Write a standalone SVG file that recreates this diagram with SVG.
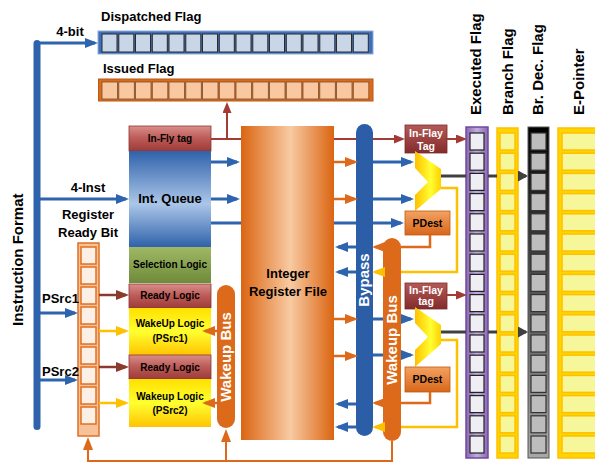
<svg xmlns="http://www.w3.org/2000/svg" width="595" height="464" viewBox="0 0 595 464">
<defs>
<style>
.t{font-family:"Liberation Sans",Arial,Helvetica,sans-serif;font-weight:bold;fill:#000}
.w{fill:#fff}
.c{text-anchor:middle}
.f10{font-size:10px}
.f105{font-size:10.5px}
.f13{font-size:13px}
.f15{font-size:15px}
.dc{fill:#c9d6e7;stroke:#2b2b2b;stroke-width:1}
.ic{fill:#f9c7a0;stroke:#7a5030;stroke-width:0.8}
.rc{fill:#fcefe6;stroke:#e07020;stroke-width:1.5}
.ec{fill:#f0eef5;stroke:#222;stroke-width:1.2}
.yc{fill:#f6f69a;stroke:#ffc000;stroke-width:1.5}
.gc{fill:#bdbdbd;stroke:#333;stroke-width:1.2}
.lb{stroke:#2e64ae;stroke-width:3;fill:none}
.lo{stroke:#dc6a1a;stroke-width:2.5;fill:none}
.ly{stroke:#ffc000;stroke-width:2.5;fill:none}
.lr{stroke:#a33b35;stroke-width:2;fill:none}
.lbr{stroke:#8b3a2e;stroke-width:2.5;fill:none}
.lg{stroke:#404040;stroke-width:3;fill:none}
.ab{marker-end:url(#mB)}
.ao{marker-end:url(#mO)}
.ay{marker-end:url(#mY)}
.ar{marker-end:url(#mR)}
.abr{marker-end:url(#mBr)}
.ag{marker-end:url(#mG)}
</style>
<linearGradient id="gRedL" x1="0" y1="0" x2="0" y2="1"><stop offset="0" stop-color="#d98e8a"/><stop offset="0.5" stop-color="#bb5a56"/><stop offset="1" stop-color="#9c3b38"/></linearGradient>
<linearGradient id="gRedR" x1="0" y1="0" x2="0" y2="1"><stop offset="0" stop-color="#b45a56"/><stop offset="1" stop-color="#832c2c"/></linearGradient>
<linearGradient id="gQ" x1="0" y1="0" x2="0" y2="1"><stop offset="0" stop-color="#2f62ab"/><stop offset="0.55" stop-color="#abc6e8"/><stop offset="1" stop-color="#2f62ab"/></linearGradient>
<linearGradient id="gG" x1="0" y1="0" x2="0" y2="1"><stop offset="0" stop-color="#9fb866"/><stop offset="1" stop-color="#6e8b3a"/></linearGradient>
<linearGradient id="gY" x1="0" y1="0" x2="0" y2="1"><stop offset="0" stop-color="#ffe000"/><stop offset="0.5" stop-color="#ffff30"/><stop offset="1" stop-color="#ffc400"/></linearGradient>
<linearGradient id="gRF" x1="0" y1="0" x2="1" y2="0"><stop offset="0" stop-color="#db6512"/><stop offset="0.53" stop-color="#f8caa2"/><stop offset="1" stop-color="#db6512"/></linearGradient>
<linearGradient id="gMux" x1="0" y1="0" x2="1" y2="0"><stop offset="0" stop-color="#ffc000"/><stop offset="0.6" stop-color="#ffff33"/><stop offset="1" stop-color="#ffd000"/></linearGradient>
<linearGradient id="gPD" x1="0" y1="0" x2="0" y2="1"><stop offset="0" stop-color="#f3a262"/><stop offset="1" stop-color="#d8661a"/></linearGradient>
<linearGradient id="gBlk" x1="0" y1="0" x2="0" y2="1"><stop offset="0" stop-color="#000"/><stop offset="1" stop-color="#a8a8a8"/></linearGradient>
<linearGradient id="gPur" x1="0" y1="0" x2="1" y2="0"><stop offset="0" stop-color="#8a66b4"/><stop offset="0.5" stop-color="#c2afdc"/><stop offset="1" stop-color="#8a66b4"/></linearGradient>
<marker id="mB" viewBox="0 0 13 10" refX="10" refY="5" markerWidth="13" markerHeight="10" markerUnits="userSpaceOnUse" orient="auto"><path d="M0,0L13,5L0,10z" fill="#2e64ae"/></marker>
<marker id="mO" viewBox="0 0 13 10" refX="10" refY="5" markerWidth="13" markerHeight="10" markerUnits="userSpaceOnUse" orient="auto"><path d="M0,0L13,5L0,10z" fill="#dc6a1a"/></marker>
<marker id="mY" viewBox="0 0 13 10" refX="10" refY="5" markerWidth="13" markerHeight="10" markerUnits="userSpaceOnUse" orient="auto"><path d="M0,0L13,5L0,10z" fill="#ffc000"/></marker>
<marker id="mBr" viewBox="0 0 13 10" refX="10" refY="5" markerWidth="13" markerHeight="10" markerUnits="userSpaceOnUse" orient="auto"><path d="M0,0L13,5L0,10z" fill="#8b3a2e"/></marker>
<marker id="mR" viewBox="0 0 11 9" refX="8" refY="4.5" markerWidth="11" markerHeight="9" markerUnits="userSpaceOnUse" orient="auto"><path d="M0,0L11,4.5L0,9z" fill="#a33b35"/></marker>
<marker id="mG" viewBox="0 0 10 11" refX="8" refY="5.5" markerWidth="10" markerHeight="11" markerUnits="userSpaceOnUse" orient="auto"><path d="M0,0L10,5.5L0,11z" fill="#404040"/></marker>
</defs>
<rect width="595" height="464" fill="#fff"/>

<g id="instruction-format">
<rect x="33.5" y="40" width="7" height="390" rx="3.5" fill="#2e62ab"/>
<text class="t f15" transform="translate(23,326) rotate(-90)">Instruction Format</text>
</g>

<g id="dispatched-flag">
<text class="t f13" x="101" y="21">Dispatched Flag</text>
<rect x="98" y="31" width="275" height="23" fill="#3f6fb8" stroke="#8fb0dc" stroke-width="1"/>
<rect class="dc" x="102" y="34" width="15" height="18"/><rect class="dc" x="118.8" y="34" width="15" height="18"/><rect class="dc" x="135.5" y="34" width="15" height="18"/><rect class="dc" x="152.3" y="34" width="15" height="18"/><rect class="dc" x="169" y="34" width="15" height="18"/><rect class="dc" x="185.8" y="34" width="15" height="18"/><rect class="dc" x="202.5" y="34" width="15" height="18"/><rect class="dc" x="219.3" y="34" width="15" height="18"/><rect class="dc" x="236" y="34" width="15" height="18"/><rect class="dc" x="252.8" y="34" width="15" height="18"/><rect class="dc" x="269.5" y="34" width="15" height="18"/><rect class="dc" x="286.3" y="34" width="15" height="18"/><rect class="dc" x="303" y="34" width="15" height="18"/><rect class="dc" x="319.8" y="34" width="15" height="18"/><rect class="dc" x="336.5" y="34" width="15" height="18"/><rect class="dc" x="353.3" y="34" width="15" height="18"/>
</g>

<g id="issued-flag">
<text class="t f13" x="103" y="73">Issued Flag</text>
<rect x="98.5" y="79" width="274.5" height="22" fill="#dc6a1a" stroke="#b85a18" stroke-width="1"/>
<rect class="ic" x="102" y="82" width="15.5" height="17"/><rect class="ic" x="118.8" y="82" width="15.5" height="17"/><rect class="ic" x="135.5" y="82" width="15.5" height="17"/><rect class="ic" x="152.3" y="82" width="15.5" height="17"/><rect class="ic" x="169" y="82" width="15.5" height="17"/><rect class="ic" x="185.8" y="82" width="15.5" height="17"/><rect class="ic" x="202.5" y="82" width="15.5" height="17"/><rect class="ic" x="219.3" y="82" width="15.5" height="17"/><rect class="ic" x="236" y="82" width="15.5" height="17"/><rect class="ic" x="252.8" y="82" width="15.5" height="17"/><rect class="ic" x="269.5" y="82" width="15.5" height="17"/><rect class="ic" x="286.3" y="82" width="15.5" height="17"/><rect class="ic" x="303" y="82" width="15.5" height="17"/><rect class="ic" x="319.8" y="82" width="15.5" height="17"/><rect class="ic" x="336.5" y="82" width="15.5" height="17"/><rect class="ic" x="353.3" y="82" width="15.5" height="17"/>
</g>

<g id="ready-bit">
<text class="t f13 c" x="88" y="219">Register</text>
<text class="t f13 c" x="88" y="237">Ready Bit</text>
<rect x="78" y="243" width="21" height="193" fill="#f7c29a" stroke="#e07020" stroke-width="1.5"/>
<rect class="rc" x="81" y="247" width="15" height="17"/><rect class="rc" x="81" y="267" width="15" height="17"/><rect class="rc" x="81" y="287" width="15" height="17"/><rect class="rc" x="81" y="307" width="15" height="17"/><rect class="rc" x="81" y="327" width="15" height="17"/><rect class="rc" x="81" y="347" width="15" height="17"/><rect class="rc" x="81" y="367" width="15" height="17"/><rect class="rc" x="81" y="387" width="15" height="17"/><rect class="rc" x="81" y="407" width="15" height="17"/>
<text class="t f13" x="42" y="303">PSrc1</text>
<text class="t f13" x="42" y="376">PSrc2</text>
</g>

<g id="in-fly-tag">
<rect x="129" y="126" width="82" height="25" fill="url(#gRedL)" stroke="#8e3532" stroke-width="0.8"/>
<text class="t f10 c" x="170" y="142">In-Fly tag</text>
</g>
<g id="int-queue">
<rect x="129" y="151" width="82" height="96" fill="url(#gQ)"/>
<text class="t f13 c" x="170" y="203">Int. Queue</text>
</g>
<g id="selection-logic">
<rect x="129" y="247" width="82" height="36" fill="url(#gG)"/>
<text class="t f10 c" x="170" y="268">Selection Logic</text>
</g>
<g id="ready-logic-1">
<rect x="129" y="284" width="82" height="24" fill="url(#gRedL)" stroke="#8e3532" stroke-width="0.8"/>
<text class="t f10 c" x="170" y="299">Ready Logic</text>
</g>
<g id="wakeup-logic-1">
<rect x="129" y="308" width="82" height="47" fill="url(#gY)"/>
<text class="t f10 c" x="170" y="327">WakeUp Logic</text>
<text class="t f10 c" x="170" y="342">(PSrc1)</text>
</g>
<g id="ready-logic-2">
<rect x="129" y="355" width="82" height="24" fill="url(#gRedL)" stroke="#8e3532" stroke-width="0.8"/>
<text class="t f10 c" x="170" y="371">Ready Logic</text>
</g>
<g id="wakeup-logic-2">
<rect x="129" y="379" width="82" height="48" fill="url(#gY)"/>
<text class="t f10 c" x="170" y="400">Wakeup Logic</text>
<text class="t f10 c" x="170" y="414">(PSrc2)</text>
</g>

<g id="wakeup-bus-left">
<rect x="217" y="285" width="18" height="143" rx="9" fill="#dc6a1a"/>
<text class="t f15 w c" transform="translate(231,357) rotate(-90)">Wakeup Bus</text>
</g>

<g id="register-file">
<rect x="241" y="126" width="93" height="314" fill="url(#gRF)"/>
<text class="t f13 c" x="288" y="278">Integer</text>
<text class="t f13 c" x="288" y="296">Register File</text>
</g>

<g id="bypass">
<rect x="356" y="124" width="17" height="312" rx="8.5" fill="#2b5ea7"/>
<text class="t f15 w c" transform="translate(369,280) rotate(-90)">Bypass</text>
</g>

<g id="wakeup-bus-right">
<rect x="383" y="238" width="18" height="203" rx="9" fill="#dc6a1a"/>
<text class="t f15 w c" transform="translate(397,340) rotate(-90)">Wakeup Bus</text>
</g>

<g id="in-flay-tag-1">
<rect x="405" y="125" width="42" height="28" fill="url(#gRedR)" stroke="#7a2a2a" stroke-width="0.8"/>
<text class="t f105 w c" x="426" y="137">In-Flay</text>
<text class="t f105 w c" x="426" y="150">Tag</text>
</g>
<g id="mux-1">
<polygon points="415,151 441,169 441,189 415,211 415,195 428,182 415,168" fill="url(#gMux)"/>
</g>
<g id="pdest-1">
<rect x="405" y="211" width="45" height="24" fill="url(#gPD)" stroke="#c05a10" stroke-width="0.8"/>
<text class="t f105 c" x="427.5" y="227">PDest</text>
</g>

<g id="in-flay-tag-2">
<rect x="405" y="283" width="42" height="26" fill="url(#gRedR)" stroke="#7a2a2a" stroke-width="0.8"/>
<text class="t f105 w c" x="426" y="294">In-Flay</text>
<text class="t f105 w c" x="426" y="305">tag</text>
</g>
<g id="mux-2">
<polygon points="415,307 441,325 441,344 415,367 415,350 428,337 415,323" fill="url(#gMux)"/>
</g>
<g id="pdest-2">
<rect x="405" y="367" width="45" height="25" fill="url(#gPD)" stroke="#c05a10" stroke-width="0.8"/>
<text class="t f105 c" x="427.5" y="383">PDest</text>
</g>

<g id="executed-flag">
<text class="t f15" transform="translate(481,115) rotate(-90)">Executed Flag</text>
<rect x="466" y="127" width="22" height="331" fill="url(#gPur)" stroke="#6f4a9e" stroke-width="1.5"/>
<rect class="ec" x="470" y="133" width="14" height="17"/><rect class="ec" x="470" y="153.2" width="14" height="17"/><rect class="ec" x="470" y="173.4" width="14" height="17"/><rect class="ec" x="470" y="193.6" width="14" height="17"/><rect class="ec" x="470" y="213.8" width="14" height="17"/><rect class="ec" x="470" y="234" width="14" height="17"/><rect class="ec" x="470" y="254.2" width="14" height="17"/><rect class="ec" x="470" y="274.4" width="14" height="17"/><rect class="ec" x="470" y="294.6" width="14" height="17"/><rect class="ec" x="470" y="314.8" width="14" height="17"/><rect class="ec" x="470" y="335" width="14" height="17"/><rect class="ec" x="470" y="355.2" width="14" height="17"/><rect class="ec" x="470" y="375.4" width="14" height="17"/><rect class="ec" x="470" y="395.6" width="14" height="17"/><rect class="ec" x="470" y="415.8" width="14" height="17"/><rect class="ec" x="470" y="436" width="14" height="17"/>
</g>

<g id="branch-flag">
<text class="t f15" transform="translate(513,115) rotate(-90)">Branch Flag</text>
<rect x="497" y="128" width="21" height="330" fill="#ffd500" stroke="#ffc000" stroke-width="1.5"/>
<rect class="yc" x="500" y="133" width="15" height="17"/><rect class="yc" x="500" y="153.2" width="15" height="17"/><rect class="yc" x="500" y="173.4" width="15" height="17"/><rect class="yc" x="500" y="193.6" width="15" height="17"/><rect class="yc" x="500" y="213.8" width="15" height="17"/><rect class="yc" x="500" y="234" width="15" height="17"/><rect class="yc" x="500" y="254.2" width="15" height="17"/><rect class="yc" x="500" y="274.4" width="15" height="17"/><rect class="yc" x="500" y="294.6" width="15" height="17"/><rect class="yc" x="500" y="314.8" width="15" height="17"/><rect class="yc" x="500" y="335" width="15" height="17"/><rect class="yc" x="500" y="355.2" width="15" height="17"/><rect class="yc" x="500" y="375.4" width="15" height="17"/><rect class="yc" x="500" y="395.6" width="15" height="17"/><rect class="yc" x="500" y="415.8" width="15" height="17"/><rect class="yc" x="500" y="436" width="15" height="17"/>
</g>

<g id="br-dec-flag">
<text class="t f15" transform="translate(543,115) rotate(-90)">Br. Dec. Flag</text>
<rect x="528" y="127" width="21" height="331" fill="url(#gBlk)" stroke="#555" stroke-width="1"/>
<rect class="gc" x="531" y="133" width="15" height="17"/><rect class="gc" x="531" y="153.2" width="15" height="17"/><rect class="gc" x="531" y="173.4" width="15" height="17"/><rect class="gc" x="531" y="193.6" width="15" height="17"/><rect class="gc" x="531" y="213.8" width="15" height="17"/><rect class="gc" x="531" y="234" width="15" height="17"/><rect class="gc" x="531" y="254.2" width="15" height="17"/><rect class="gc" x="531" y="274.4" width="15" height="17"/><rect class="gc" x="531" y="294.6" width="15" height="17"/><rect class="gc" x="531" y="314.8" width="15" height="17"/><rect class="gc" x="531" y="335" width="15" height="17"/><rect class="gc" x="531" y="355.2" width="15" height="17"/><rect class="gc" x="531" y="375.4" width="15" height="17"/><rect class="gc" x="531" y="395.6" width="15" height="17"/><rect class="gc" x="531" y="415.8" width="15" height="17"/><rect class="gc" x="531" y="436" width="15" height="17"/>
</g>

<g id="e-pointer">
<text class="t f15" transform="translate(584,115) rotate(-90)">E-Pointer</text>
<rect x="558" y="128" width="42" height="330" fill="#ffd500" stroke="#ffc000" stroke-width="1.5"/>
<rect class="yc" x="562" y="133" width="40" height="17"/><rect class="yc" x="562" y="153.2" width="40" height="17"/><rect class="yc" x="562" y="173.4" width="40" height="17"/><rect class="yc" x="562" y="193.6" width="40" height="17"/><rect class="yc" x="562" y="213.8" width="40" height="17"/><rect class="yc" x="562" y="234" width="40" height="17"/><rect class="yc" x="562" y="254.2" width="40" height="17"/><rect class="yc" x="562" y="274.4" width="40" height="17"/><rect class="yc" x="562" y="294.6" width="40" height="17"/><rect class="yc" x="562" y="314.8" width="40" height="17"/><rect class="yc" x="562" y="335" width="40" height="17"/><rect class="yc" x="562" y="355.2" width="40" height="17"/><rect class="yc" x="562" y="375.4" width="40" height="17"/><rect class="yc" x="562" y="395.6" width="40" height="17"/><rect class="yc" x="562" y="415.8" width="40" height="17"/><rect class="yc" x="562" y="436" width="40" height="17"/>
</g>

<g id="connectors">
<text class="t f13 c" x="70" y="36">4-bit</text>
<text class="t f13 c" x="88" y="192">4-Inst</text>
<path class="lb ab" d="M37,43H95"/>
<path class="lb ab" d="M40,199H126"/>
<path class="lb ab" d="M211,162H237"/>
<path class="lb ab" d="M211,199H237"/>
<path class="lb" d="M211,223H241M334,223H356"/>
<path class="lb ab" d="M373,223H401"/>
<path class="lb ab" d="M373,162H411"/>
<path class="lb ab" d="M373,199H411"/>
<path class="lb ab" d="M356,247H338"/>
<path class="lb ab" d="M356,272H338"/>
<path class="lb ab" d="M356,404H338"/>
<path class="lb ab" d="M356,427H338"/>
<path class="lb" d="M373,319H383M373,355H383"/>
<path class="lb ab" d="M401,319H411"/>
<path class="lb ab" d="M401,355H411"/>
<path class="lb ab" d="M40,313H75"/>
<path class="lb ab" d="M40,380H75"/>
<path class="lo ao" d="M334,162H355"/>
<path class="lo ao" d="M334,199H355"/>
<path class="lo ao" d="M334,319H355"/>
<path class="lo ao" d="M334,356H355"/>
<path class="lo" d="M430,235V247H401"/>
<path class="lo ao" d="M383,247H375"/>
<path class="lo" d="M430,392V403H401"/>
<path class="lo ao" d="M383,403H375"/>
<path class="lo ao" d="M217,331H205"/>
<path class="lo ao" d="M217,403H205"/>
<path class="lo ao" d="M392,441V461H88V440" style="stroke-width:2"/>
<path class="lo ao" d="M226,461V432" style="stroke-width:2"/>
<path class="ly" d="M441,188H457V272H401"/>
<path class="ly ay" d="M383,272H375"/>
<path class="ly" d="M441,340H457V427H401"/>
<path class="ly ay" d="M383,427H375"/>
<path class="ly ay" d="M99,331H126"/>
<path class="ly ay" d="M99,403H126"/>
<path class="lr" d="M211,139H241M334,139H356"/>
<path class="lr ar" d="M373,139H402"/>
<path class="lr ar" d="M227,139V105"/>
<path class="lr ar" d="M447,139H464"/>
<path class="lr ar" d="M447,295H464"/>
<path class="lbr abr" d="M99,295H126"/>
<path class="lbr abr" d="M99,367H126"/>
<path class="lg" d="M441,176H466M488,176H497"/>
<path class="lg ag" d="M518,176H526"/>
<path class="lg" d="M441,332H466M488,332H497"/>
<path class="lg ag" d="M518,332H526"/>
</g>
</svg>
